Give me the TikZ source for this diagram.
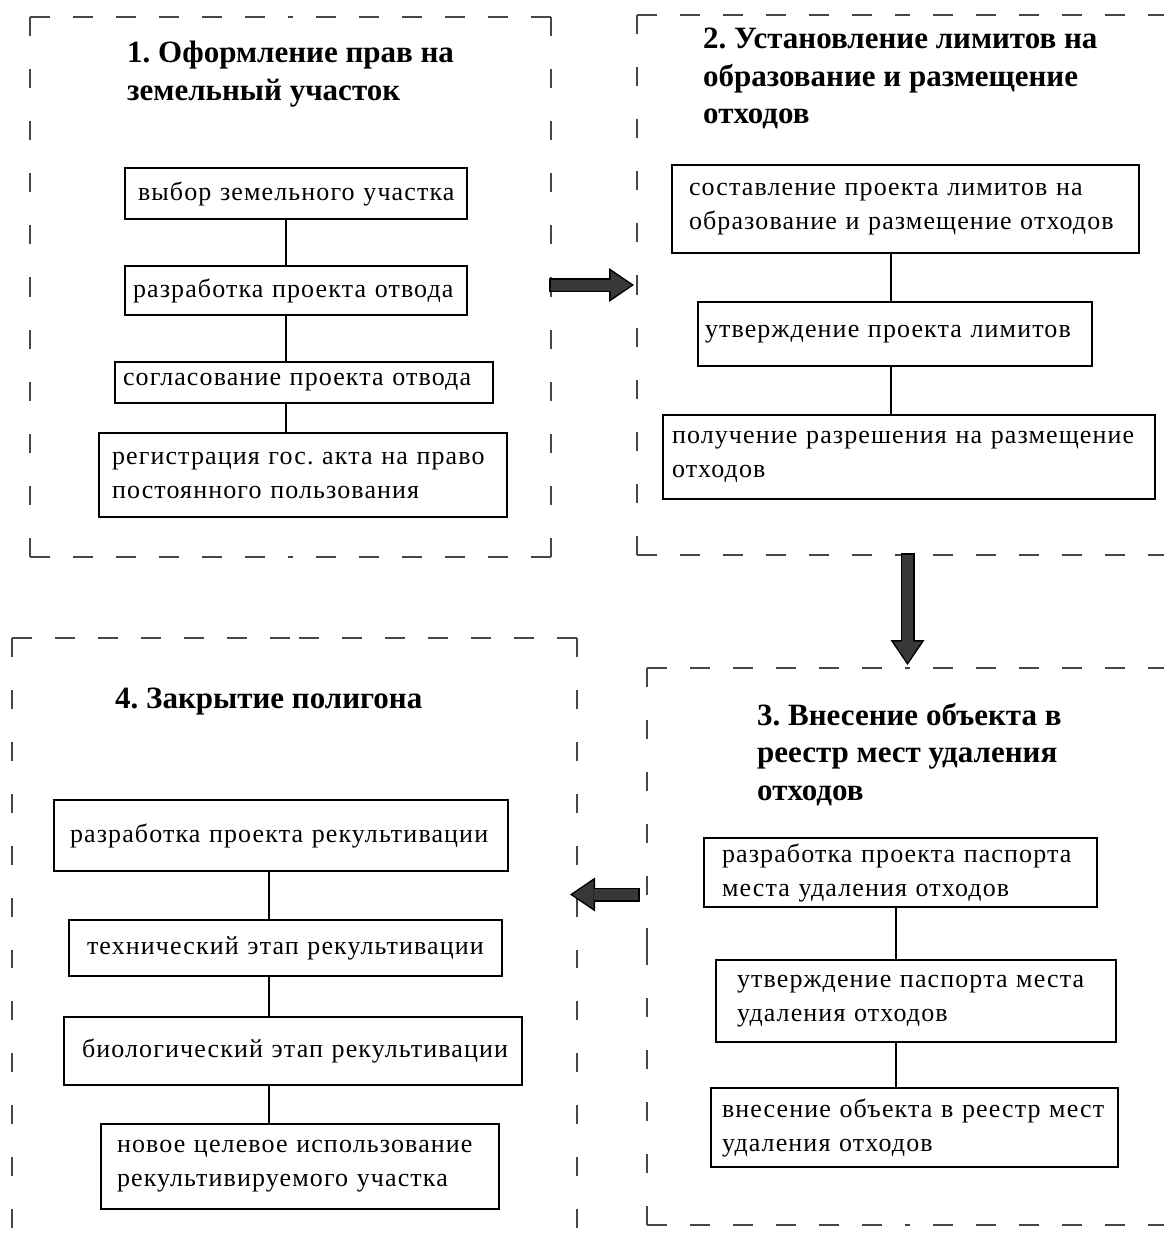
\documentclass[tikz,border=0pt]{standalone}
\usepackage{fontspec}
\setmainfont{Liberation Serif}
\newfontfamily\cajafont[LetterSpace=4.3]{Liberation Serif}
\usepackage{tikz}
\usetikzlibrary{arrows.meta}
\pgfdeclarelayer{lineas_layer}
\pgfdeclarelayer{esquema}
\pgfsetlayers{lineas_layer,esquema,main}
\frenchspacing
\definecolor{GrisMarco}{HTML}{474747}
\definecolor{GrisFlecha}{HTML}{383838}
\tikzstyle{none}=[inner sep=0pt,outer sep=0pt]
\tikzstyle{marco}=[inner sep=0pt,outer sep=0pt]
\tikzstyle{titulo}=[inner sep=0pt,anchor=north west,align=left,font=\fontsize{31}{37.5}\selectfont\bfseries]
\tikzstyle{paso}=[draw=black,line width=1.6pt,fill=white,align=left,inner ysep=0pt,outer sep=0pt,font=\cajafont\fontsize{26}{34}\selectfont]
\tikzstyle{linea}=[draw=black,line width=1.6pt]
\tikzstyle{guion_h}=[draw=GrisMarco,line width=2.6pt,dash pattern=on 20pt off 23pt]
\tikzstyle{guion_v}=[draw=GrisMarco,line width=2.6pt,dash pattern=on 19pt off 33pt]
\tikzstyle{flecha}=[draw=GrisFlecha,line width=11pt,shorten <=0pt,shorten >=5.5pt,-{Triangle[length=21pt,width=28pt,line width=0pt]},preaction={draw=black,line width=14pt,shorten <=-2pt,shorten >=3pt,-{Triangle[length=25pt,width=34pt,line width=0pt]}}]

\begin{document}
\begin{tikzpicture}[x=1pt,y=-1pt]
		\useasboundingbox (0,0) rectangle (1164,1254);
		\begin{pgfonlayer}{esquema}
			% marcos de las etapas
			\node [style=marco,minimum width=521pt,minimum height=540pt] (etapa1) at (290.5,287) {};
			\node [style=marco,minimum width=531pt,minimum height=540pt] (etapa2) at (902.5,285) {};
			\node [style=marco,minimum width=521pt,minimum height=557pt] (etapa3) at (907.5,946.5) {};
			\node [style=marco,minimum width=565pt,minimum height=642pt] (etapa4) at (294.5,959) {};
			% titulos
			\node [style=titulo] (titulo1) at (127,41) {1. Оформление прав на\\земельный участок};
			\node [style=titulo] (titulo2) at (703,28) {2. Установление лимитов на\\образование и размещение\\отходов};
			\node [style=titulo] (titulo3) at (757,703) {3. Внесение объекта в\\реестр мест удаления\\отходов};
			\node [style=titulo] (titulo4) at (115,688) {4. Закрытие полигона};
			% etapa 1
			\node [style=paso,minimum width=342pt,minimum height=51pt,inner xsep=13pt,text width=316pt] (seleccion) at (296,193.5) {\mbox{выбор земельного участка}};
			\node [style=paso,minimum width=342pt,minimum height=49pt,inner xsep=8pt,text width=326pt] (proyecto_asig) at (296,290.5) {\mbox{разработка проекта отвода}};
			\node [style=paso,minimum width=378pt,minimum height=41pt,inner xsep=8pt,text width=362pt] (acuerdo_asig) at (304,382.5) {\mbox{согласование проекта отвода}};
			\node [style=paso,minimum width=408pt,minimum height=84pt,inner xsep=13pt,text width=382pt] (registro_acta) at (303,475) {\mbox{регистрация гос. акта на право}\\постоянного пользования};
			% etapa 2
			\node [style=paso,minimum width=467pt,minimum height=88pt,inner xsep=17pt,text width=433pt] (proyecto_lim) at (905.5,209) {\mbox{составление проекта лимитов на}\\\mbox{образование и размещение отходов}};
			\node [style=paso,minimum width=394pt,minimum height=64pt,inner xsep=7pt,text width=380pt] (aprob_lim) at (895,334) {\mbox{утверждение проекта лимитов}};
			\node [style=paso,minimum width=492pt,minimum height=84pt,inner xsep=9pt,text width=474pt] (permiso) at (909,457) {\mbox{получение разрешения на размещение}\\отходов};
			% etapa 3
			\node [style=paso,minimum width=393pt,minimum height=69pt,inner xsep=18pt,text width=357pt] (proyecto_pas) at (900.5,872.5) {\mbox{разработка проекта паспорта}\\\mbox{места удаления отходов}};
			\node [style=paso,minimum width=400pt,minimum height=82pt,inner xsep=21pt,text width=358pt] (aprob_pas) at (916,1001) {\mbox{утверждение паспорта места}\\удаления отходов};
			\node [style=paso,minimum width=407pt,minimum height=79pt,inner xsep=11pt,text width=385pt] (registro_obj) at (914.5,1127.5) {\mbox{внесение объекта в реестр мест}\\удаления отходов};
			% etapa 4
			\node [style=paso,minimum width=454pt,minimum height=71pt,inner xsep=16pt,text width=422pt] (proyecto_rec) at (281,835.5) {\mbox{разработка проекта рекультивации}};
			\node [style=paso,minimum width=433pt,minimum height=56pt,inner xsep=18pt,text width=397pt] (rec_tecnica) at (285.5,948) {\mbox{технический этап рекультивации}};
			\node [style=paso,minimum width=458pt,minimum height=68pt,inner xsep=18pt,text width=422pt] (rec_biologica) at (293,1051) {\mbox{биологический этап рекультивации}};
			\node [style=paso,minimum width=398pt,minimum height=85pt,inner xsep=16pt,text width=366pt] (nuevo_uso) at (300,1166.5) {\mbox{новое целевое использование}\\\mbox{рекультивируемого участка}};
			\coordinate (eje1) at (286,0);
			\coordinate (eje2) at (891,0);
			\coordinate (eje3) at (896,0);
			\coordinate (eje4) at (269,0);
		\end{pgfonlayer}
		\begin{pgfonlayer}{lineas_layer}
			\foreach \e in {etapa1,etapa2,etapa3,etapa4} {
				\draw [style=guion_h] (\e.north west) -- (\e.north);
				\draw [style=guion_h] (\e.north east) -- (\e.north);
				\draw [style=guion_h] (\e.south west) -- (\e.south);
				\draw [style=guion_h] (\e.south east) -- (\e.south);
				\draw [style=guion_v] (\e.north west) -- (\e.west);
				\draw [style=guion_v] (\e.south west) -- (\e.west);
				\draw [style=guion_v] (\e.north east) -- (\e.east);
				\draw [style=guion_v] (\e.south east) -- (\e.east);
			}
			\path [style=linea] (seleccion.south -| eje1) -- (proyecto_asig.north -| eje1);
			\path [style=linea] (proyecto_asig.south -| eje1) -- (acuerdo_asig.north -| eje1);
			\path [style=linea] (acuerdo_asig.south -| eje1) -- (registro_acta.north -| eje1);
			\path [style=linea] (proyecto_lim.south -| eje2) -- (aprob_lim.north -| eje2);
			\path [style=linea] (aprob_lim.south -| eje2) -- (permiso.north -| eje2);
			\path [style=linea] (proyecto_pas.south -| eje3) -- (aprob_pas.north -| eje3);
			\path [style=linea] (aprob_pas.south -| eje3) -- (registro_obj.north -| eje3);
			\path [style=linea] (proyecto_rec.south -| eje4) -- (rec_tecnica.north -| eje4);
			\path [style=linea] (rec_tecnica.south -| eje4) -- (rec_biologica.north -| eje4);
			\path [style=linea] (rec_biologica.south -| eje4) -- (nuevo_uso.north -| eje4);
		\end{pgfonlayer}
		% flechas entre etapas
		\coordinate (fl1) at ([yshift=2pt]etapa1.east);
		\coordinate (fl3) at ([xshift=-9pt,yshift=52pt]etapa3.west);
		\coordinate (fl3fin) at (fl3 -| etapa4.east);
		\path [style=flecha] (fl1) -- (fl1 -| etapa2.west);
		\path [style=flecha] (etapa2.south -| etapa3.north) -- (etapa3.north);
		\path [style=flecha] (fl3) -- ([xshift=-10pt]fl3fin);
\end{tikzpicture}
\end{document}
